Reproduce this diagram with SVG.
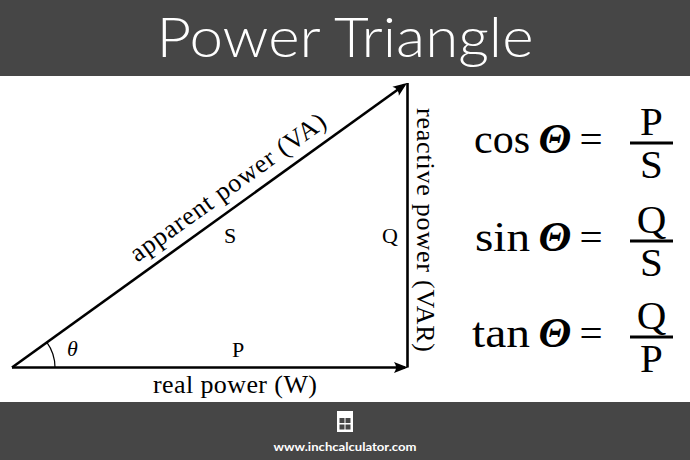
<svg xmlns="http://www.w3.org/2000/svg" width="690" height="460" viewBox="0 0 690 460">
<style>
.band{fill:#464646}
.title{font-family:Lato,"Open Sans",sans-serif;font-weight:300;font-size:55px;fill:#ffffff}
.foot{font-family:Lato,"Open Sans",sans-serif;font-weight:700;font-size:12px;fill:#ffffff}
.lbl{font-family:"Liberation Serif","Times New Roman",serif;font-size:26px;fill:#000}
.sym{font-family:"Liberation Serif","Times New Roman",serif;font-size:22px;fill:#000}
.eq{font-family:"Liberation Serif","Times New Roman",serif;font-size:41px;fill:#000}
.fn{font-family:"Liberation Serif","Times New Roman",serif;font-size:42px;fill:#000}
.th{font-family:"Liberation Serif","Times New Roman",serif;font-size:43px;font-weight:bold;font-style:italic;fill:#000}
.vec{stroke:#000;stroke-width:2.6;fill:none}
.bar{stroke:#000;stroke-width:2.8}
</style>
<defs>
<marker id="arr" markerUnits="userSpaceOnUse" viewBox="-14 -8 18 16" markerWidth="18" markerHeight="16" refX="0" refY="0" orient="auto" overflow="visible">
<path d="M3,0 L-11,-5.5 Q-7,0 -11,5.5 Z" fill="#000"/>
</marker>
</defs>
<rect class="band" x="0" y="0" width="690" height="76"/>
<text class="title" x="345" y="57" text-anchor="middle" textLength="377" lengthAdjust="spacingAndGlyphs">Power Triangle</text>
<rect class="band" x="0" y="402" width="690" height="58"/>
<g id="footer-icon">
<rect x="337" y="411" width="16" height="21" fill="#ffffff"/>
<rect x="339.5" y="418" width="5" height="5" fill="#464646"/>
<rect x="345.5" y="418" width="5" height="5" fill="#464646"/>
<rect x="339.5" y="424.5" width="5" height="5" fill="#464646"/>
<rect x="345.5" y="424.5" width="5" height="5" fill="#464646"/>
</g>
<text class="foot" x="345" y="451" text-anchor="middle" textLength="143" lengthAdjust="spacingAndGlyphs">www.inchcalculator.com</text>
<g id="connectors">
<line class="vec" x1="407.5" y1="367.5" x2="407.5" y2="83"/>
<line class="vec" x1="12" y1="367.5" x2="405" y2="367.5" marker-end="url(#arr)"/>
<line class="vec" x1="12" y1="367.5" x2="404.57" y2="84.75" marker-end="url(#arr)"/>
<path d="M55,367.5 A43,43 0 0 0 46.9,342.4" fill="none" stroke="#000" stroke-width="1.2"/>
</g>
<g id="side-S">
<text class="lbl" transform="translate(232.7,194.2) rotate(-35.76)" text-anchor="middle" textLength="235">apparent power (VA)</text>
<text class="sym" x="230" y="243" text-anchor="middle">S</text>
</g>
<g id="side-P">
<text class="lbl" x="235" y="393" text-anchor="middle" textLength="164">real power (W)</text>
<text class="sym" x="238" y="357" text-anchor="middle">P</text>
</g>
<g id="side-Q">
<text class="lbl" transform="translate(417,230) rotate(90)" text-anchor="middle" textLength="244">reactive power (VAR)</text>
<text class="sym" x="390" y="243" text-anchor="middle">Q</text>
</g>
<g id="angle">
<text class="sym" x="72.5" y="356" text-anchor="middle" font-style="italic">θ</text>
</g>
<g id="eq-cos">
<text class="fn" x="474" y="153" textLength="56" lengthAdjust="spacingAndGlyphs">cos</text>
<text class="th" x="555" y="153" text-anchor="middle">Θ</text>
<text class="eq" x="591" y="153" text-anchor="middle">=</text>
<text class="eq" x="651.5" y="135" text-anchor="middle">P</text>
<line class="bar" x1="630" y1="143" x2="673" y2="143"/>
<text class="eq" x="651.5" y="178" text-anchor="middle">S</text>
</g>
<g id="eq-sin">
<text class="fn" x="475" y="251" textLength="55" lengthAdjust="spacingAndGlyphs">sin</text>
<text class="th" x="555" y="251" text-anchor="middle">Θ</text>
<text class="eq" x="591" y="251" text-anchor="middle">=</text>
<text class="eq" x="651.5" y="233" text-anchor="middle">Q</text>
<line class="bar" x1="630" y1="241" x2="673" y2="241"/>
<text class="eq" x="651.5" y="276" text-anchor="middle">S</text>
</g>
<g id="eq-tan">
<text class="fn" x="472" y="347" textLength="58" lengthAdjust="spacingAndGlyphs">tan</text>
<text class="th" x="555" y="347" text-anchor="middle">Θ</text>
<text class="eq" x="591" y="347" text-anchor="middle">=</text>
<text class="eq" x="651.5" y="329" text-anchor="middle">Q</text>
<line class="bar" x1="630" y1="337" x2="673" y2="337"/>
<text class="eq" x="651.5" y="372" text-anchor="middle">P</text>
</g>
</svg>
